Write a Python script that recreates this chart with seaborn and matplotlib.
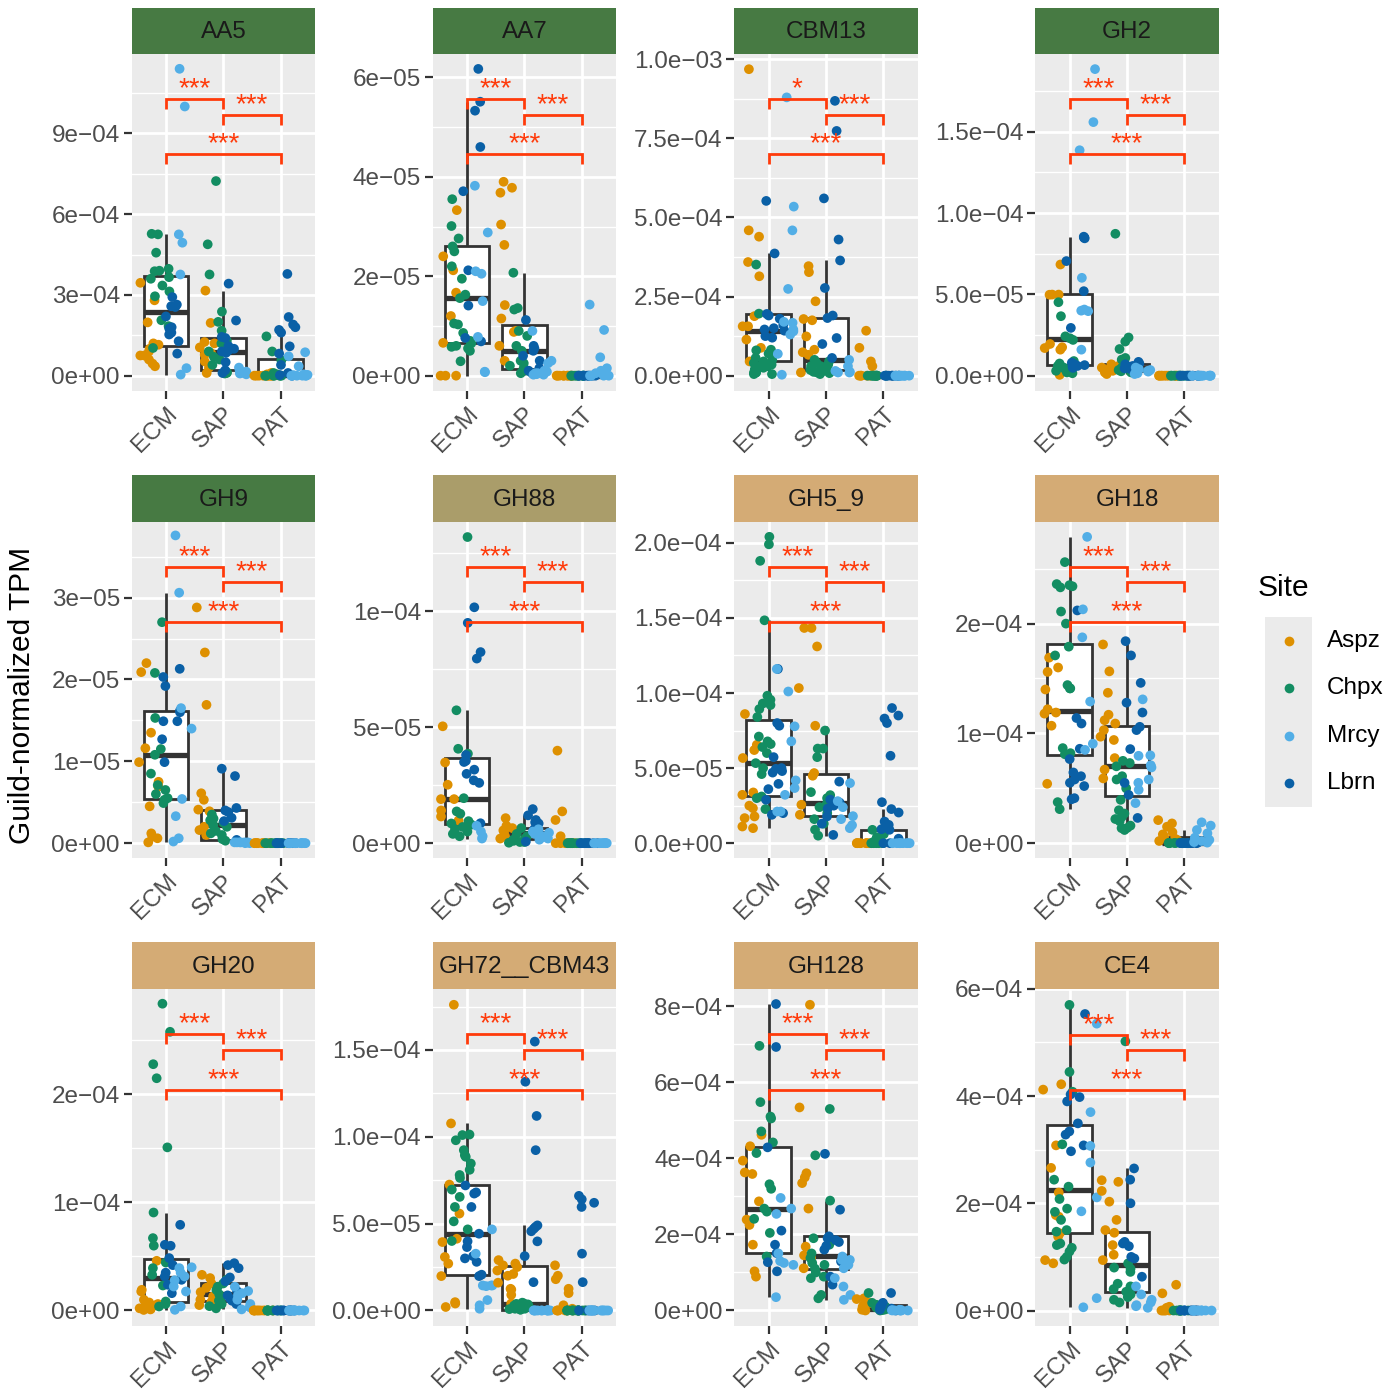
import numpy as np
import pandas as pd
import matplotlib
matplotlib.use("Agg")
import matplotlib.pyplot as plt
from matplotlib.patches import Rectangle
import seaborn as sns

plt.rcParams['font.family'] = ['Liberation Sans', 'DejaVu Sans']

# ---------------- categories ----------------
GROUPS = ["ECM", "SAP", "PAT"]
SITES = ["Aspz", "Chpx", "Mrcy", "Lbrn"]          # legend order
DODGE_ORDER = ["Aspz", "Chpx", "Lbrn", "Mrcy"]     # left-to-right order inside a group
SITE_COLORS = {"Aspz": "#DE9000", "Chpx": "#138D62", "Mrcy": "#52AEE6", "Lbrn": "#0A60A6"}

FACETS = ["AA5", "AA7", "CBM13", "GH2", "GH9", "GH88", "GH5_9", "GH18",
          "GH20", "GH72__CBM43", "GH128", "CE4"]
STRIP_COLORS = {"AA5": "#477A43", "AA7": "#477A43", "CBM13": "#477A43", "GH2": "#477A43",
                "GH9": "#477A43", "GH88": "#AA9D6A", "GH5_9": "#D4AB75", "GH18": "#D4AB75",
                "GH20": "#D4AB75", "GH72__CBM43": "#D4AB75", "GH128": "#D4AB75", "CE4": "#D4AB75"}
# values below are written in these units
UNITS = {"AA5": 1e-4, "AA7": 1e-5, "CBM13": 1e-4, "GH2": 1e-5, "GH9": 1e-5, "GH88": 1e-5,
         "GH5_9": 1e-5, "GH18": 1e-5, "GH20": 1e-5, "GH72__CBM43": 1e-5, "GH128": 1e-4, "CE4": 1e-4}

# ---------------- data (per facet, per group, per site) ----------------
AA5_ECM = {"Aspz": [3.45, 2.8, 1.98, 1.2, 1.15, 1.0, 0.9, 0.75, 0.75, 0.6, 0.45, 0.35],
           "Chpx": [5.25, 5.27, 4.57, 3.97, 3.88, 3.9, 3.66, 3.6, 3.35, 3.13, 2.95, 2.06, 1.84, 1.03],
           "Mrcy": [11.4, 10.0, 5.25, 4.94, 3.76, 0.28, 0.04],
           "Lbrn": [2.92, 2.64, 2.55, 2.58, 2.2, 1.8, 1.75, 1.6, 1.53, 1.28, 0.82]}
AA5_SAP = {"Aspz": [3.16, 1.96, 1.25, 1.2, 1.05, 0.84, 0.78, 0.53, 0.3, 0.1],
           "Chpx": [7.23, 4.88, 3.76, 2.38, 2.0, 1.67, 1.3, 1.2, 0.9, 0.7, 0.6, 0.4, 0.12, 0.1, 0.08],
           "Mrcy": [0.3, 0.2, 0.15, 0.1, 0.1, 0.08, 0.05],
           "Lbrn": [3.42, 2.05, 1.44, 1.4, 1.1, 1.0, 0.95, 0.9, 0.85, 0.5, 0.2, 0.1]}
AA5_PAT = {"Aspz": [0.1, 0.05, 0.02, 0, 0, 0, 0, 0, 0, 0, 0, 0],
           "Chpx": [1.46, 0.9, 0.57, 0.1, 0.05, 0, 0, 0, 0, 0, 0, 0],
           "Mrcy": [0.87, 0.72, 0.35, 0.05, 0.03, 0.02, 0, 0, 0, 0, 0, 0],
           "Lbrn": [3.78, 2.18, 1.9, 1.8, 1.7, 1.6, 1.09, 0.82, 0.4, 0.1, 0.02, 0]}

AA7_ECM = {"Aspz": [3.33, 2.4, 2.12, 1.67, 1.2, 0.66, 0, 0, 0],
           "Chpx": [3.55, 3.01, 2.76, 2.6, 2.5, 2.2, 1.95, 1.63, 1.56, 1.05, 1.03, 0.86, 0.7, 0.65,
                    0.6, 0.58, 0.55, 0.5, 0.29],
           "Mrcy": [3.82, 2.88, 2.1, 2.05, 1.5, 0.78, 0.08, 0.07],
           "Lbrn": [6.17, 5.51, 5.33, 4.6, 3.71, 2.12, 1.41, 0.76, 0.69]}
AA7_SAP = {"Aspz": [3.9, 3.78, 3.68, 3.04, 2.63, 1.42, 1.15, 0.9, 0.88, 0.6, 0.3],
           "Chpx": [2.07, 1.36, 1.33, 0.9, 0.8, 0.6, 0.5, 0.3, 0.25, 0.2, 0.15, 0.1, 0.05],
           "Mrcy": [0.9, 0.3, 0.25, 0.1, 0.08, 0.05, 0.05, 0.03, 0.02, 0.02],
           "Lbrn": [1.12, 0.6, 0.55, 0.5, 0.4, 0.3, 0.15, 0.1, 0.05]}
AA7_PAT = {"Aspz": [0, 0, 0, 0, 0, 0, 0, 0, 0, 0],
           "Chpx": [0, 0, 0, 0, 0, 0, 0, 0, 0, 0],
           "Mrcy": [1.43, 0.92, 0.37, 0.15, 0.1, 0.05, 0, 0, 0, 0],
           "Lbrn": [0, 0, 0, 0, 0, 0, 0, 0, 0, 0]}

CBM13_ECM = {"Aspz": [9.68, 4.59, 4.39, 3.59, 3.14, 1.88, 1.56, 1.56, 1.14, 0.88, 0.45],
             "Chpx": [3.51, 1.96, 0.82, 0.8, 0.7, 0.56, 0.5, 0.45, 0.4, 0.35, 0.3, 0.3, 0.25, 0.2,
                      0.15, 0.1, 0.1, 0.1, 0.05, 0.05],
             "Mrcy": [8.79, 5.34, 4.59, 2.74, 1.7, 1.67, 1.46, 1.4, 1.3, 0.69, 0.03],
             "Lbrn": [5.52, 3.86, 1.95, 1.9, 1.8, 1.6, 1.5, 1.46, 1.42, 1.25, 1.2]}
CBM13_SAP = {"Aspz": [3.46, 3.27, 2.35, 1.79, 1.75, 1.24, 0.82, 0.74, 0.66, 0.1],
             "Chpx": [0.5, 0.45, 0.4, 0.35, 0.3, 0.3, 0.25, 0.2, 0.2, 0.18, 0.15, 0.12, 0.1, 0.08, 0.05],
             "Mrcy": [0.5, 0.3, 0.15, 0.12, 0.1, 0.1],
             "Lbrn": [8.68, 7.73, 5.6, 4.3, 3.64, 2.77, 1.9, 1.82, 1.19, 1.0, 0.56]}
CBM13_PAT = {"Aspz": [1.42, 0.88, 0.45, 0.3, 0, 0, 0, 0, 0, 0],
             "Chpx": [0, 0, 0, 0, 0, 0, 0, 0, 0, 0],
             "Mrcy": [0, 0, 0, 0, 0, 0, 0, 0, 0, 0],
             "Lbrn": [0, 0, 0, 0, 0, 0, 0, 0, 0, 0]}

GH2_ECM = {"Aspz": [6.84, 4.99, 4.99, 4.98, 1.95, 1.75, 1.7, 1.6, 0.05],
           "Chpx": [4.52, 3.66, 2.42, 2.3, 2.2, 0.9, 0.75, 0.6, 0.5, 0.4, 0.35, 0.3, 0.2, 0.15],
           "Mrcy": [18.86, 15.6, 13.87, 6.02, 4.07, 4.0, 3.97, 1.6],
           "Lbrn": [8.55, 8.5, 8.5, 8.45, 7.05, 5.2, 2.94, 0.8, 0.7, 0.65, 0.6, 0.55, 0.48]}
GH2_SAP = {"Aspz": [0.7, 0.6, 0.5, 0.5, 0.4, 0.35, 0.3, 0.25, 0.2, 0.1],
           "Chpx": [8.73, 2.35, 2.1, 1.64, 1.09, 0.99, 0.5, 0.35, 0.27, 0.2],
           "Mrcy": [0.5, 0.4, 0.35, 0.3, 0.25, 0.2, 0.15, 0.1],
           "Lbrn": [0.85, 0.75, 0.7, 0.6, 0.55, 0.45, 0.4]}
GH2_PAT = {"Aspz": [0, 0, 0, 0, 0, 0, 0, 0, 0, 0],
           "Chpx": [0, 0, 0, 0, 0, 0, 0, 0, 0, 0],
           "Mrcy": [0, 0, 0, 0, 0, 0, 0, 0, 0, 0],
           "Lbrn": [0, 0, 0, 0, 0, 0, 0, 0, 0, 0]}

GH9_ECM = {"Aspz": [2.2, 2.09, 1.35, 1.16, 0.99, 0.75, 0.69, 0.45, 0.12, 0.08, 0.06, 0.01],
           "Chpx": [2.7, 2.08, 1.53, 1.15, 1.08, 0.85, 0.71, 0.65, 0.6, 0.55, 0.53, 0.49],
           "Mrcy": [3.76, 3.06, 1.65, 1.4, 0.54, 0.33, 0.06, 0.02],
           "Lbrn": [2.13, 2.03, 1.92, 1.62, 1.6, 1.49, 1.49, 1.27, 0.99]}
GH9_SAP = {"Aspz": [2.88, 2.33, 1.69, 0.61, 0.53, 0.41, 0.39, 0.2, 0.16, 0.1],
           "Chpx": [0.35, 0.3, 0.28, 0.25, 0.22, 0.2, 0.15, 0.12, 0.1, 0.05, 0.03],
           "Mrcy": [0.01, 0.01, 0.01, 0.01, 0.01, 0.01, 0, 0],
           "Lbrn": [0.91, 0.82, 0.43, 0.4, 0.38, 0.31, 0.27, 0.04]}
GH9_PAT = {"Aspz": [0, 0, 0, 0, 0, 0, 0, 0, 0, 0],
           "Chpx": [0, 0, 0, 0, 0, 0, 0, 0, 0, 0],
           "Mrcy": [0, 0, 0, 0, 0, 0, 0, 0, 0, 0],
           "Lbrn": [0, 0, 0, 0, 0, 0, 0, 0, 0, 0]}

GH88_ECM = {"Aspz": [5.04, 3.48, 2.52, 1.9, 1.9, 1.41, 1.15, 0.98],
            "Chpx": [13.2, 5.73, 4.07, 3.86, 1.94, 1.37, 1.27, 0.95, 0.85, 0.8, 0.7, 0.6, 0.5, 0.4, 0.3],
            "Mrcy": [0.75, 0.5, 0.3, 0.2],
            "Lbrn": [10.17, 9.5, 8.24, 7.96, 3.8, 3.55, 3.5, 3.17, 2.99, 2.71, 2.6, 0.86]}
GH88_SAP = {"Aspz": [1.08, 0.75, 0.65, 0.55, 0.5, 0.3, 0.2],
            "Chpx": [0.65, 0.4, 0.3, 0.2, 0.15, 0.1, 0.05, 0.05, 0.02],
            "Mrcy": [0.6, 0.5, 0.45, 0.4, 0.3, 0.25, 0.2, 0.15],
            "Lbrn": [1.47, 1.2, 1.0, 0.9, 0.85, 0.6, 0.5, 0.07]}
GH88_PAT = {"Aspz": [3.99, 1.37, 1.0, 0.3, 0, 0, 0, 0, 0, 0],
            "Chpx": [0, 0, 0, 0, 0, 0, 0, 0, 0, 0],
            "Mrcy": [0, 0, 0, 0, 0, 0, 0, 0, 0, 0],
            "Lbrn": [0, 0, 0, 0, 0, 0, 0, 0, 0, 0]}

GH5_9_ECM = {"Aspz": [8.6, 6.55, 6.2, 5.67, 3.38, 3.22, 2.5, 2.33, 1.78, 1.67, 1.11, 1.0],
             "Chpx": [20.4, 19.9, 18.8, 14.84, 9.82, 9.55, 9.3, 9.2, 8.93, 8.4, 7.1, 6.78, 6.6, 6.4,
                      6.0, 5.33, 5.0, 4.6, 3.11, 3.0, 2.27],
             "Mrcy": [11.6, 10.1, 7.78, 6.78, 4.18, 3.67, 3.22, 2.11, 2.11],
             "Lbrn": [11.6, 8.0, 7.82, 5.73, 5.0, 4.95, 4.8, 4.7, 3.95, 3.6, 2.89, 2.0, 1.89]}
GH5_9_SAP = {"Aspz": [14.33, 14.33, 13.1, 10.33, 7.82, 4.67, 4.49, 2.56, 1.89],
             "Chpx": [7.5, 6.3, 6.3, 5.73, 3.4, 3.2, 3.0, 2.8, 2.6, 2.4, 2.0, 1.6, 1.3, 0.9, 0.5],
             "Mrcy": [4.0, 2.8, 2.4, 1.8, 1.6, 1.2, 1.0],
             "Lbrn": [4.1, 2.9, 2.7, 2.5, 2.3, 1.78, 1.3, 0.55]}
GH5_9_PAT = {"Aspz": [0, 0, 0, 0, 0, 0, 0, 0, 0],
             "Chpx": [0.89, 0.6, 0.4, 0.2, 0.1, 0, 0, 0, 0, 0],
             "Mrcy": [0, 0, 0, 0, 0, 0, 0, 0, 0],
             "Lbrn": [9.0, 8.5, 8.3, 8.0, 5.82, 2.73, 2.27, 2.04, 1.44, 1.22, 0.93, 0.89, 0.3, 0, 0]}

GH18_ECM = {"Aspz": [16.9, 16.0, 15.6, 14.0, 12.2, 11.9, 11.8, 10.7, 5.41],
            "Chpx": [25.6, 23.6, 23.5, 23.4, 23.3, 21.1, 20.0, 17.9, 17.1, 14.4, 14.1, 14.1, 8.66,
                     8.2, 8.1, 3.74, 3.1],
            "Mrcy": [27.9, 21.3, 18.75, 12.9, 9.06, 8.5],
            "Lbrn": [21.2, 11.4, 10.9, 8.6, 7.66, 6.44, 6.1, 5.8, 5.5, 5.2, 4.1, 4.0]}
GH18_SAP = {"Aspz": [18.1, 15.65, 13.7, 11.7, 11.2, 10.9, 10.3, 9.7, 9.4, 7.75, 6.7, 5.9],
            "Chpx": [7.5, 7.3, 7.0, 6.1, 5.8, 5.0, 3.95, 3.0, 2.7, 2.4, 2.2, 2.0, 1.6, 1.4, 1.37, 1.2],
            "Mrcy": [13.1, 8.0, 7.96, 7.1, 6.9, 5.8, 5.5, 4.86, 3.65],
            "Lbrn": [18.4, 17.1, 14.6, 12.8, 11.9, 10.6, 10.3, 8.57, 5.5, 4.4, 2.3]}
GH18_PAT = {"Aspz": [2.1, 1.8, 1.5, 1.0, 0.8, 0.6, 0.4, 0.3, 0.2, 0.1],
            "Chpx": [0.05, 0.03, 0.02, 0.02, 0.01, 0.01, 0, 0, 0, 0],
            "Mrcy": [1.9, 1.6, 1.2, 0.9, 0.5, 0.3, 0.2, 0.1, 0.05],
            "Lbrn": [0.05, 0.03, 0.02, 0.01, 0, 0, 0, 0, 0, 0, 0]}

GH20_ECM = {"Aspz": [4.6, 1.91, 1.76, 0.99, 0.74, 0.6, 0.5, 0.4, 0.2, 0.15, 0.1, 0.05],
            "Chpx": [28.4, 25.8, 22.8, 21.5, 15.1, 9.07, 6.7, 6.0, 4.44, 3.92, 3.3, 2.31, 0.83, 0.6, 0.37],
            "Mrcy": [4.0, 3.92, 3.5, 3.15, 2.8, 2.22, 1.76, 0.37, 0.06],
            "Lbrn": [7.93, 6.08, 5.99, 4.85, 4.2, 3.5, 3.15, 2.84, 2.38, 1.6]}
GH20_SAP = {"Aspz": [3.3, 3.0, 2.5, 2.1, 1.7, 1.3, 1.0, 0.8, 0.5],
            "Chpx": [2.84, 2.5, 2.2, 1.9, 1.5, 1.2, 0.9, 0.6, 0.4, 0.2],
            "Mrcy": [2.2, 1.8, 1.6, 1.4, 1.0, 0.6, 0.3, 0.1],
            "Lbrn": [4.38, 4.2, 3.92, 3.06, 2.7, 1.8, 1.4, 1.1, 0.9, 0.6]}
GH20_PAT = {"Aspz": [0, 0, 0, 0, 0, 0, 0, 0, 0, 0],
            "Chpx": [0, 0, 0, 0, 0, 0, 0, 0, 0, 0],
            "Mrcy": [0, 0, 0, 0, 0, 0, 0, 0, 0, 0],
            "Lbrn": [0, 0, 0, 0, 0, 0, 0, 0, 0, 0]}

GH72_ECM = {"Aspz": [17.6, 10.77, 7.25, 5.58, 4.13, 3.94, 3.08, 2.7, 1.98, 0.48, 0.4, 0.2],
            "Chpx": [10.13, 10.1, 9.8, 9.23, 8.94, 8.85, 8.46, 8.1, 7.8, 7.63, 6.96, 6.54, 5.96,
                     5.13, 4.67, 4.0],
            "Mrcy": [4.67, 3.27, 1.44, 1.44, 1.44, 1.4, 0.6, 0.3, 0.1],
            "Lbrn": [7.2, 6.8, 6.73, 5.96, 4.42, 3.98, 3.65, 3.13, 3.0, 2.8, 2.06, 1.98]}
GH72_SAP = {"Aspz": [2.9, 2.7, 2.6, 2.5, 2.3, 2.1, 2.0, 1.6, 1.25, 1.2, 0.9, 0.4],
            "Chpx": [0.45, 0.4, 0.38, 0.35, 0.3, 0.28, 0.25, 0.2, 0.18, 0.15, 0.1, 0.1, 0.08, 0.05, 0.05],
            "Mrcy": [0.02, 0, 0, 0, 0, 0, 0, 0, 0, 0, 0, 0, 0],
            "Lbrn": [15.48, 13.17, 11.2, 9.23, 4.9, 4.8, 4.7, 4.56, 3.98, 3.13, 1.63]}
GH72_PAT = {"Aspz": [2.6, 2.0, 1.8, 1.25, 1.0, 0.3, 0.1, 0, 0, 0, 0, 0, 0],
            "Chpx": [0, 0, 0, 0, 0, 0, 0, 0, 0, 0, 0, 0, 0, 0, 0],
            "Mrcy": [0, 0, 0, 0, 0, 0, 0, 0, 0, 0, 0, 0, 0, 0],
            "Lbrn": [6.6, 6.4, 6.2, 5.96, 3.27, 1.63, 0, 0, 0, 0]}

GH128_ECM = {"Aspz": [4.62, 4.32, 3.94, 3.63, 3.59, 2.87, 2.39, 2.25, 1.73, 1.03, 0.89],
             "Chpx": [6.96, 5.48, 5.1, 5.05, 4.71, 4.42, 4.14, 3.32, 3.2, 2.68, 2.6, 2.41, 2.04, 1.42],
             "Mrcy": [2.96, 2.68, 2.54, 1.5, 1.3, 1.25, 1.2, 0.35],
             "Lbrn": [8.06, 6.93, 4.29, 2.1, 1.73, 1.51, 1.27, 1.03]}
GH128_SAP = {"Aspz": [8.04, 5.34, 3.61, 3.5, 3.35, 2.68, 1.68, 1.45, 1.38, 1.11],
             "Chpx": [5.3, 4.08, 2.89, 1.9, 1.73, 1.5, 1.38, 1.25, 1.2, 1.1, 1.0, 0.89, 0.85, 0.41, 0.32],
             "Mrcy": [1.42, 1.33, 1.33, 1.2, 1.11, 0.85, 0.63, 0.41, 0.28],
             "Lbrn": [4.12, 2.65, 1.95, 1.9, 1.85, 1.8, 1.7, 1.6, 1.29, 0.89, 0.68]}
GH128_PAT = {"Aspz": [0.32, 0.3, 0.2, 0.15, 0.1, 0.08, 0.05, 0.03, 0.02, 0],
             "Chpx": [0.46, 0.2, 0.15, 0.1, 0.08, 0.05, 0.03, 0.02, 0.01, 0],
             "Mrcy": [0.02, 0.01, 0.01, 0, 0, 0, 0, 0, 0],
             "Lbrn": [0.46, 0.2, 0.15, 0.1, 0.08, 0.05, 0.03, 0.02, 0]}

CE4_ECM = {"Aspz": [4.22, 4.12, 3.08, 2.66, 2.2, 1.78, 1.75, 1.44, 1.38, 0.94, 0.88],
           "Chpx": [5.7, 4.45, 4.08, 3.1, 2.44, 2.31, 2.08, 1.9, 1.84, 1.69, 1.5, 1.47, 1.25, 1.22,
                    1.17, 1.1, 1.0, 0.95],
           "Mrcy": [5.35, 3.7, 3.07, 2.76, 2.11, 1.85, 0.23, 0.06],
           "Lbrn": [5.53, 4.03, 3.98, 3.9, 3.49, 3.34, 3.28, 3.08, 2.97]}
CE4_SAP = {"Aspz": [2.43, 2.4, 2.23, 2.03, 1.69, 1.5, 1.45, 1.22, 1.04, 0.94],
           "Chpx": [5.02, 0.88, 0.8, 0.78, 0.72, 0.5, 0.45, 0.4, 0.4, 0.35, 0.3, 0.25, 0.2, 0.15],
           "Mrcy": [0.45, 0.3, 0.2, 0.15, 0.1, 0.05, 0.08],
           "Lbrn": [2.65, 2.44, 2.0, 1.28, 1.25, 1.2, 1.0, 0.97, 0.63]}
CE4_PAT = {"Aspz": [0.48, 0.32, 0.07, 0.05, 0.02, 0, 0, 0, 0, 0],
           "Chpx": [0, 0, 0, 0, 0, 0, 0, 0, 0, 0],
           "Mrcy": [0, 0, 0, 0, 0, 0, 0, 0, 0, 0],
           "Lbrn": [0, 0, 0, 0, 0, 0, 0, 0, 0, 0]}

FACET_DATA = {
    "AA5": (AA5_ECM, AA5_SAP, AA5_PAT),
    "AA7": (AA7_ECM, AA7_SAP, AA7_PAT),
    "CBM13": (CBM13_ECM, CBM13_SAP, CBM13_PAT),
    "GH2": (GH2_ECM, GH2_SAP, GH2_PAT),
    "GH9": (GH9_ECM, GH9_SAP, GH9_PAT),
    "GH88": (GH88_ECM, GH88_SAP, GH88_PAT),
    "GH5_9": (GH5_9_ECM, GH5_9_SAP, GH5_9_PAT),
    "GH18": (GH18_ECM, GH18_SAP, GH18_PAT),
    "GH20": (GH20_ECM, GH20_SAP, GH20_PAT),
    "GH72__CBM43": (GH72_ECM, GH72_SAP, GH72_PAT),
    "GH128": (GH128_ECM, GH128_SAP, GH128_PAT),
    "CE4": (CE4_ECM, CE4_SAP, CE4_PAT),
}

# significance labels (ECM-SAP, SAP-PAT, ECM-PAT)
SIG_LABELS = {name: ("***", "***", "***") for name in FACETS}
SIG_LABELS["CBM13"] = ("*", "***", "***")

# y-axis ticks (in facet units) and their labels
TICKS = {"AA5": [0, 3, 6, 9], "AA7": [0, 2, 4, 6], "CBM13": [0, 2.5, 5, 7.5, 10],
         "GH2": [0, 5, 10, 15], "GH9": [0, 1, 2, 3], "GH88": [0, 5, 10],
         "GH5_9": [0, 5, 10, 15, 20], "GH18": [0, 10, 20], "GH20": [0, 10, 20],
         "GH72__CBM43": [0, 5, 10, 15], "GH128": [0, 2, 4, 6, 8], "CE4": [0, 2, 4, 6]}
TICK_LABELS = {
    "AA5": ["0e+00", "3e\u221204", "6e\u221204", "9e\u221204"],
    "AA7": ["0e+00", "2e\u221205", "4e\u221205", "6e\u221205"],
    "CBM13": ["0.0e+00", "2.5e\u221204", "5.0e\u221204", "7.5e\u221204", "1.0e\u221203"],
    "GH2": ["0.0e+00", "5.0e\u221205", "1.0e\u221204", "1.5e\u221204"],
    "GH9": ["0e+00", "1e\u221205", "2e\u221205", "3e\u221205"],
    "GH88": ["0e+00", "5e\u221205", "1e\u221204"],
    "GH5_9": ["0.0e+00", "5.0e\u221205", "1.0e\u221204", "1.5e\u221204", "2.0e\u221204"],
    "GH18": ["0e+00", "1e\u221204", "2e\u221204"],
    "GH20": ["0e+00", "1e\u221204", "2e\u221204"],
    "GH72__CBM43": ["0.0e+00", "5.0e\u221205", "1.0e\u221204", "1.5e\u221204"],
    "GH128": ["0e+00", "2e\u221204", "4e\u221204", "6e\u221204", "8e\u221204"],
    "CE4": ["0e+00", "2e\u221204", "4e\u221204", "6e\u221204"],
}

# ---------------- positions / styles ----------------
YTOP = {"AA5": 11.95, "AA7": 6.47, "CBM13": 10.16, "GH2": 19.79, "GH9": 3.93, "GH88": 13.87,
        "GH5_9": 21.42, "GH18": 29.3, "GH20": 29.78, "GH72__CBM43": 18.52, "GH128": 8.46, "CE4": 5.99}
BRACKET_Y = {"AA5": (10.27, 9.68, 8.23), "AA7": (5.56, 5.24, 4.46), "CBM13": (8.73, 8.23, 6.99),
             "GH2": (17.01, 16.03, 13.62), "GH9": (3.38, 3.19, 2.70), "GH88": (11.91, 11.25, 9.53),
             "GH5_9": (18.4, 17.38, 14.71), "GH18": (25.17, 23.77, 20.12),
             "GH20": (25.59, 24.14, 20.43), "GH72__CBM43": (15.9, 15.0, 12.69),
             "GH128": (7.27, 6.86, 5.81), "CE4": (5.14, 4.85, 4.11)}

W, H = 1397, 1389
COL_LEFT = [131.7, 432.7, 734.3, 1035.3]
PANEL_W = 183.5
STRIP_TOP = [7.5, 475.0, 942.3]
STRIP_H = 46.5
PANEL_H = 337.0
RED = "#FF3A0A"
PT_SIZE = 7.0
FS_TICK = 17.5
FS_TITLE = 21.5
FS_STAR = 20

np.random.seed(7)
fig = plt.figure(figsize=(W / 100, H / 100), dpi=100)


def facet_frame(name):
    rows = []
    for g, d in zip(GROUPS, FACET_DATA[name]):
        for s in SITES:
            for v in d[s]:
                rows.append((g, s, v * UNITS[name]))
    return pd.DataFrame(rows, columns=["group", "site", "value"])


for i, name in enumerate(FACETS):
    r, c = divmod(i, 4)
    x0 = COL_LEFT[c]
    st = STRIP_TOP[r]
    pt = st + STRIP_H
    u = UNITS[name]
    ax = fig.add_axes([x0 / W, 1 - (pt + PANEL_H) / H, PANEL_W / W, PANEL_H / H])
    sax = fig.add_axes([x0 / W, 1 - pt / H, PANEL_W / W, STRIP_H / H])

    # strip
    sax.set_facecolor(STRIP_COLORS[name])
    sax.set_xticks([])
    sax.set_yticks([])
    for sp in sax.spines.values():
        sp.set_visible(False)
    sax.text(0.5, 0.47, name, transform=sax.transAxes, ha="center", va="center",
             fontsize=FS_TICK, color="#1A1A1A")

    df = facet_frame(name)
    sns.boxplot(data=df, x="group", y="value", order=GROUPS, color="white",
                linecolor="#333333", linewidth=2.0, width=0.78, showfliers=False,
                showcaps=False, saturation=1, medianprops=dict(linewidth=3.8),
                ax=ax, zorder=2)
    sns.stripplot(data=df, x="group", y="value", order=GROUPS, hue="site",
                  hue_order=DODGE_ORDER, palette=SITE_COLORS, dodge=True, jitter=0.7,
                  size=PT_SIZE, linewidth=0, legend=False, ax=ax, zorder=3)

    ytop = YTOP[name]
    ybot = -ytop * 0.05 / 1.05
    ax.set_xlim(-0.6, 2.6)
    ax.set_ylim(ybot * u, ytop * u)
    ax.set_facecolor("#EBEBEB")
    for sp in ax.spines.values():
        sp.set_visible(False)

    ticks = TICKS[name]
    step = ticks[1] - ticks[0]
    minors = [t + step / 2 for t in ticks] + [ticks[0] - step / 2]
    minors = [m for m in minors if ybot < m < ytop]
    ax.set_yticks([t * u for t in ticks])
    ax.set_yticklabels(TICK_LABELS[name])
    ax.set_yticks([m * u for m in minors], minor=True)
    ax.set_xticks([0, 1, 2])
    ax.set_xticklabels(GROUPS, rotation=45, ha="right", va="top", rotation_mode="anchor")
    ax.set_xlabel("")
    ax.set_ylabel("")
    ax.tick_params(which="major", length=5.5, width=1.6, color="#333333",
                   labelsize=FS_TICK, labelcolor="#4D4D4D", pad=3)
    ax.tick_params(which="minor", length=0)
    ax.set_axisbelow(True)
    ax.grid(True, which="major", color="white", linewidth=2.0)
    ax.grid(True, which="minor", axis="y", color="white", linewidth=1.0)

    # significance brackets
    tip = 0.03 * (ytop - ybot) * u
    pairs = [(0, 1), (1, 2), (0, 2)]
    for (xa, xb), yb, lab in zip(pairs, BRACKET_Y[name], SIG_LABELS[name]):
        y = yb * u
        ax.plot([xa, xa, xb, xb], [y - tip, y, y, y - tip], color=RED, lw=2.0,
                zorder=5, solid_joinstyle="miter", solid_capstyle="butt", clip_on=False)
        ax.annotate(lab, xy=((xa + xb) / 2, y), xytext=(0, 2.0), textcoords="offset points",
                    ha="center", va="baseline", color=RED, fontsize=FS_STAR, zorder=6)

# axis title
fig.text(22 / W, 1 - 695 / H, "Guild-normalized TPM", rotation=90, ha="center", va="center",
         fontsize=FS_TITLE, color="black")

# legend drawn in figure pixel coordinates
lax = fig.add_axes([0, 0, 1, 1], facecolor="none")
lax.set_xlim(0, W)
lax.set_ylim(H, 0)
lax.axis("off")
lax.text(1258, 588, "Site", ha="left", va="center", fontsize=FS_TITLE, color="black")
lax.add_patch(Rectangle((1265, 617), 47, 190, facecolor="#EBEBEB", edgecolor="none"))
for k, s in enumerate(SITES):
    yc = 640.7 + k * 47.5
    lax.scatter([1288.5], [yc], s=PT_SIZE ** 2, color=SITE_COLORS[s], linewidths=0)
    lax.text(1327, yc, s, ha="left", va="center", fontsize=FS_TICK, color="black")

fig.savefig("out.png", dpi=100)
